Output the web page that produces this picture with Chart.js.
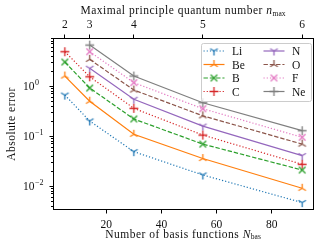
<!DOCTYPE html>
<html>
<head>
<meta charset="utf-8">
<script src="https://cdn.jsdelivr.net/npm/chart.js@4.4.1/dist/chart.umd.min.js"></script>
<style>
  html, body { margin: 0; padding: 0; background: #fff; }
</style>
</head>
<body>
<canvas id="chart" width="325" height="250"></canvas>
<script>
'use strict';

const FONT = '"Liberation Serif", "DejaVu Serif", serif';

// basis size for each n_max (top axis ticks sit on these)
const N_BAS = [5, 14, 30, 55, 91];
const N_MAX = [2, 3, 4, 5, 6];
const X_TICKS = [20, 40, 60, 80];
const Y_DECADES = [0, -1, -2];

const ATOMS = ['Li', 'Be', 'B', 'C', 'N', 'O', 'F', 'Ne'];
const ERR_LI = [0.65, 0.197, 0.048, 0.0164, 0.0046];
const ERR_BE = [1.56, 0.49, 0.107, 0.035, 0.0089];
const ERR_B  = [2.98, 0.90, 0.216, 0.068, 0.0206];
const ERR_C  = [4.79, 1.51, 0.353, 0.103, 0.0268];
const ERR_N  = [null, 2.23, 0.535, 0.156, 0.040];
const ERR_O  = [null, 3.37, 0.82, 0.25, 0.068];
const ERR_F  = [null, 4.79, 1.15, 0.347, 0.093];
const ERR_NE = [null, 6.5, 1.56, 0.457, 0.126];
const ERRORS = [ERR_LI, ERR_BE, ERR_B, ERR_C, ERR_N, ERR_O, ERR_F, ERR_NE];

const COLORS = ['#1f77b4', '#ff7f0e', '#2ca02c', '#d62728', '#9467bd', '#8c564b', '#e377c2', '#7f7f7f'];
const MARKERS = ['tri_down', 'tri_up', 'x', 'plus', 'tri_down', 'tri_up', 'x', 'plus'];
const DASHES = ['dot', 'solid', 'dash', 'dot', 'solid', 'dash', 'dot', 'solid'];

const LW = 1.2;
const DASH_MAP = { solid: [], dot: [1.2, 2], dash: [4.4, 1.9] };

function makeMarker(kind, color, r) {
  const size = Math.ceil(2 * r + 2);
  const cv = document.createElement('canvas');
  cv.width = size; cv.height = size;
  const ctx = cv.getContext('2d');
  const c = size / 2;
  ctx.strokeStyle = color;
  ctx.lineWidth = 1.3;
  ctx.beginPath();
  const seg = (dx, dy) => { ctx.moveTo(c, c); ctx.lineTo(c + dx, c + dy); };
  if (kind === 'tri_down') {
    seg(0, r); seg(-0.866 * r, -0.5 * r); seg(0.866 * r, -0.5 * r);
  } else if (kind === 'tri_up') {
    seg(0, -r); seg(-0.866 * r, 0.5 * r); seg(0.866 * r, 0.5 * r);
  } else if (kind === 'x') {
    const d = r * 0.75;
    ctx.moveTo(c - d, c - d); ctx.lineTo(c + d, c + d);
    ctx.moveTo(c - d, c + d); ctx.lineTo(c + d, c - d);
  } else {
    ctx.moveTo(c - r, c); ctx.lineTo(c + r, c);
    ctx.moveTo(c, c - r); ctx.lineTo(c, c + r);
  }
  ctx.stroke();
  return cv;
}

const datasets = ATOMS.map((name, i) => ({
  label: name,
  data: N_BAS.map((x, j) => ({ x, y: ERRORS[i][j] })).filter(p => p.y !== null),
  borderColor: COLORS[i],
  backgroundColor: COLORS[i],
  borderWidth: LW,
  borderDash: DASH_MAP[DASHES[i]],
  pointStyle: makeMarker(MARKERS[i], COLORS[i], 4.4),
  pointRadius: 4,
  tension: 0,
  fill: false,
}));

// frame, y tick labels, axis titles with subscripts, and the two-column legend
const decorPlugin = {
  id: 'decor',
  afterDraw(chart) {
    const { ctx, chartArea: a, scales } = chart;
    ctx.save();
    ctx.strokeStyle = '#000';
    ctx.lineWidth = 1;
    ctx.strokeRect(a.left + 0.5, a.top + 0.5, a.right - a.left - 1, a.bottom - a.top - 1);

    // y ticks: major and minor, outward
    const y = scales.y;
    ctx.beginPath();
    for (let k = -3; k <= 1; k++) {
      for (let m = 1; m <= 9; m++) {
        const v = m * Math.pow(10, k);
        if (v < y.min || v > y.max) continue;
        const py = Math.round(y.getPixelForValue(v)) + 0.5;
        const len = m === 1 ? 3.5 : 2;
        ctx.moveTo(a.left, py); ctx.lineTo(a.left - len, py);
      }
    }
    ctx.stroke();

    ctx.fillStyle = '#111';
    ctx.textBaseline = 'middle';
    ctx.textAlign = 'left';
    Y_DECADES.forEach(d => {
      const py = y.getPixelForValue(Math.pow(10, d));
      ctx.font = '11.5px ' + FONT;
      ctx.fillText('10', 23, py + 1);
      const w = ctx.measureText('10').width;
      ctx.font = '8px ' + FONT;
      ctx.fillText(d === 0 ? '0' : '\u2212' + (-d), 23 + w + 0.5, py - 3);
    });

    // axis titles
    const SP = '0.5px';
    const drawSub = (main, sym, sub, cx, cy) => {
      ctx.letterSpacing = SP;
      ctx.font = '11.5px ' + FONT;
      const w1 = ctx.measureText(main).width;
      ctx.font = 'italic 11.5px ' + FONT;
      const w2 = ctx.measureText(sym).width;
      ctx.letterSpacing = '0px';
      ctx.font = '7.5px ' + FONT;
      const w3 = ctx.measureText(sub).width;
      const x0 = cx - (w1 + w2 + w3 + 1) / 2;
      ctx.textAlign = 'left';
      ctx.letterSpacing = SP;
      ctx.font = '11.5px ' + FONT;
      ctx.fillText(main, x0, cy);
      ctx.font = 'italic 11.5px ' + FONT;
      ctx.fillText(sym, x0 + w1, cy);
      ctx.letterSpacing = '0px';
      ctx.font = '7.5px ' + FONT;
      ctx.fillText(sub, x0 + w1 + w2, cy + 3);
    };
    const cx = (a.left + a.right) / 2;
    drawSub('Number of basis functions ', 'N', 'bas', cx, 234.5);
    drawSub('Maximal principle quantum number ', 'n', 'max', cx, 11);

    ctx.save();
    ctx.translate(12, (a.top + a.bottom) / 2);
    ctx.rotate(-Math.PI / 2);
    ctx.textAlign = 'center';
    ctx.letterSpacing = SP;
    ctx.font = '11.5px ' + FONT;
    ctx.fillText('Absolute error', 0, 0);
    ctx.restore();
    ctx.letterSpacing = '0px';

    // legend
    const bx = 201, by = 43, bw = 110, bh = 58;
    ctx.fillStyle = 'rgba(255,255,255,0.8)';
    ctx.strokeStyle = '#cccccc';
    ctx.lineWidth = 1;
    ctx.beginPath();
    ctx.roundRect(bx + 0.5, by + 0.5, bw, bh, 2);
    ctx.fill();
    ctx.stroke();
    chart.data.datasets.forEach((ds, i) => {
      const col = Math.floor(i / 4), row = i % 4;
      const lx = col === 0 ? 203.5 : 263.5;
      const ly = 51 + row * 13.5;
      ctx.strokeStyle = ds.borderColor;
      ctx.lineWidth = LW;
      ctx.setLineDash(ds.borderDash);
      ctx.beginPath();
      ctx.moveTo(lx, ly); ctx.lineTo(lx + 21, ly);
      ctx.stroke();
      ctx.setLineDash([]);
      const img = ds.pointStyle;
      ctx.drawImage(img, lx + 10.5 - img.width / 2, ly - img.height / 2);
      ctx.fillStyle = '#111';
      ctx.font = '11.5px ' + FONT;
      ctx.textAlign = 'left';
      ctx.fillText(ds.label, lx + 28.5, ly + 1);
    });
    ctx.restore();
  },
};

new Chart(document.getElementById('chart'), {
  type: 'line',
  data: { datasets },
  plugins: [decorPlugin],
  options: {
    responsive: false,
    animation: false,
    devicePixelRatio: 1,
    layout: { padding: { right: 11, left: 0, top: 0, bottom: 0 } },
    plugins: { legend: { display: false }, tooltip: { enabled: false } },
    scales: {
      x: {
        type: 'linear',
        position: 'bottom',
        min: 0.7,
        max: 95.3,
        afterBuildTicks: s => { s.ticks = X_TICKS.map(v => ({ value: v })); },
        afterFit: s => { s.height = 40; },
        ticks: { color: '#111', font: { family: FONT, size: 11.5 }, padding: 5, maxRotation: 0 },
        grid: { drawOnChartArea: false, drawTicks: true, tickLength: 3.5, color: '#000' },
        border: { display: false },
      },
      x2: {
        type: 'linear',
        position: 'top',
        min: 0.7,
        max: 95.3,
        afterBuildTicks: s => { s.ticks = N_BAS.map(v => ({ value: v })); },
        afterFit: s => { s.height = 38; },
        ticks: {
          color: '#111', font: { family: FONT, size: 11.5 }, padding: 3, maxRotation: 0,
          callback: v => N_MAX[N_BAS.indexOf(v)],
        },
        grid: { drawOnChartArea: false, drawTicks: true, tickLength: 3.5, color: '#000' },
        border: { display: false },
      },
      y: {
        type: 'logarithmic',
        min: 0.00327,
        max: 9.0,
        afterFit: s => { s.width = 53; },
        ticks: { display: false },
        grid: { display: false },
        border: { display: false },
      },
    },
  },
});
</script>
</body>
</html>
